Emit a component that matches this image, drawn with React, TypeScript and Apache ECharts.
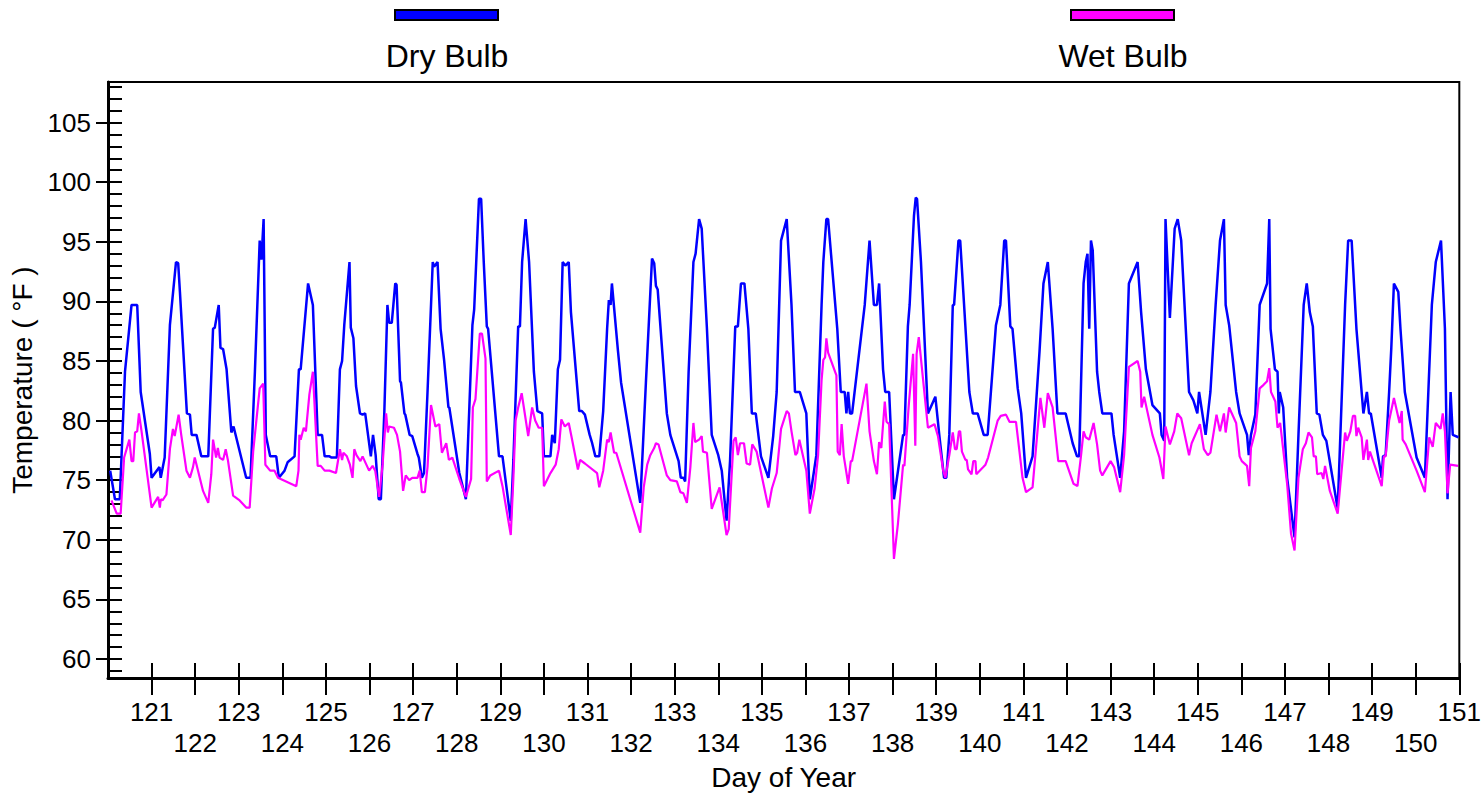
import React, { useEffect, useRef } from "react";
import * as echarts from "echarts";

const FONT = "'Liberation Sans', Arial, sans-serif";

const seriesNames = ["Dry Bulb", "Wet Bulb"];
const seriesColors = ["#0000ff", "#ff00ff"];

const dryBulb: [number, number][] = [
  [120.05, 75.8], [120.16, 73.4], [120.27, 73.4], [120.39, 84.1], [120.54, 89.7], [120.67, 89.7], [120.75, 82.4], [120.96, 77.2],
  [121.0, 75.2], [121.18, 76.1], [121.21, 75.2], [121.3, 76.9], [121.42, 88.0], [121.56, 93.3], [121.61, 93.2], [121.65, 90.8],
  [121.81, 80.6], [121.88, 80.5], [121.92, 78.8], [122.03, 78.8], [122.14, 77.0], [122.3, 77.0], [122.41, 87.7], [122.45, 87.8],
  [122.54, 89.7], [122.58, 86.1], [122.64, 86.0], [122.72, 84.3], [122.83, 79.0], [122.88, 79.5], [123.17, 75.2], [123.27, 75.2],
  [123.37, 84.1], [123.48, 95.1], [123.52, 93.5], [123.57, 96.9], [123.62, 78.8], [123.72, 77.0], [123.86, 77.0], [123.92, 75.2],
  [124.05, 75.8], [124.12, 76.5], [124.28, 77.0], [124.38, 84.3], [124.42, 84.3], [124.59, 91.5], [124.7, 89.7], [124.81, 78.8],
  [124.91, 78.8], [124.97, 77.0], [125.08, 77.0], [125.13, 76.9], [125.25, 76.9], [125.32, 84.3], [125.37, 85.0], [125.42, 88.0],
  [125.54, 93.3], [125.57, 87.8], [125.63, 86.9], [125.69, 82.9], [125.71, 82.4], [125.78, 80.6], [125.84, 80.5], [125.9, 80.6],
  [126.03, 77.0], [126.08, 78.8], [126.14, 77.1], [126.21, 73.4], [126.26, 73.4], [126.34, 80.8], [126.41, 89.7], [126.45, 88.2],
  [126.51, 88.2], [126.59, 91.5], [126.62, 91.4], [126.7, 83.3], [126.72, 83.2], [126.8, 80.6], [126.82, 80.5], [126.92, 78.8],
  [126.98, 78.7], [127.1, 77.2], [127.13, 76.9], [127.2, 75.2], [127.25, 75.6], [127.33, 82.4], [127.45, 93.3], [127.48, 92.9],
  [127.56, 93.3], [127.63, 87.7], [127.71, 85.1], [127.81, 81.1], [127.83, 81.1], [128.06, 75.6], [128.21, 73.4], [128.36, 88.0],
  [128.4, 89.3], [128.51, 98.6], [128.56, 98.6], [128.62, 93.3], [128.69, 87.9], [128.72, 87.7], [128.97, 77.0], [129.05, 77.0],
  [129.24, 71.6], [129.3, 76.7], [129.41, 87.9], [129.45, 87.9], [129.5, 93.3], [129.58, 96.9], [129.66, 93.3], [129.77, 84.1],
  [129.85, 80.8], [129.96, 80.6], [130.0, 77.0], [130.15, 77.0], [130.19, 78.8], [130.25, 78.1], [130.32, 84.3], [130.37, 85.1],
  [130.43, 93.3], [130.49, 93.0], [130.57, 93.3], [130.62, 89.1], [130.81, 80.8], [130.87, 80.8], [130.94, 80.5], [131.05, 78.8],
  [131.1, 78.2], [131.18, 77.0], [131.27, 77.0], [131.36, 80.8], [131.45, 87.7], [131.49, 90.1], [131.53, 89.7], [131.56, 91.5],
  [131.7, 85.8], [131.77, 83.2], [132.21, 73.1], [132.34, 83.2], [132.48, 93.6], [132.53, 93.2], [132.57, 91.3], [132.61, 91.0],
  [132.82, 80.6], [132.9, 78.8], [133.09, 76.6], [133.14, 75.2], [133.2, 75.2], [133.24, 74.9], [133.32, 84.1], [133.43, 93.3],
  [133.48, 94.0], [133.56, 96.9], [133.62, 96.1], [133.74, 87.7], [133.85, 78.8], [134.0, 77.1], [134.08, 75.8], [134.19, 71.6],
  [134.27, 76.6], [134.39, 87.9], [134.45, 87.9], [134.52, 91.5], [134.6, 91.5], [134.69, 87.7], [134.77, 80.6], [134.86, 80.6],
  [134.98, 77.0], [135.15, 75.2], [135.26, 78.7], [135.34, 82.4], [135.44, 95.1], [135.57, 96.9], [135.68, 89.7], [135.76, 82.4],
  [135.87, 82.4], [136.02, 80.6], [136.1, 73.4], [136.25, 77.1], [136.37, 89.7], [136.41, 93.3], [136.48, 96.9], [136.52, 96.9],
  [136.73, 87.7], [136.81, 82.4], [136.9, 82.4], [136.94, 80.6], [136.98, 82.4], [137.02, 80.6], [137.07, 80.6], [137.36, 89.7],
  [137.47, 95.1], [137.57, 89.7], [137.64, 89.7], [137.69, 91.5], [137.78, 84.3], [137.83, 82.4], [137.92, 82.4], [138.03, 73.4],
  [138.24, 78.8], [138.27, 78.8], [138.35, 87.9], [138.39, 89.7], [138.49, 97.2], [138.53, 98.7], [138.56, 98.6], [138.65, 93.3],
  [138.81, 80.6], [138.98, 82.0], [139.07, 78.8], [139.18, 75.2], [139.23, 75.2], [139.3, 78.8], [139.38, 89.7], [139.41, 89.7],
  [139.51, 95.1], [139.55, 95.1], [139.76, 82.4], [139.84, 80.6], [139.95, 80.6], [140.09, 78.8], [140.18, 78.8], [140.37, 88.0],
  [140.47, 89.7], [140.56, 95.1], [140.6, 95.1], [140.7, 87.9], [140.75, 87.7], [140.87, 82.7], [140.95, 80.6], [141.06, 75.2],
  [141.21, 77.0], [141.37, 85.8], [141.46, 91.5], [141.56, 93.3], [141.67, 87.7], [141.78, 80.6], [141.97, 80.6], [142.13, 78.1],
  [142.23, 77.0], [142.28, 77.0], [142.38, 91.5], [142.43, 93.3], [142.47, 94.0], [142.51, 87.7], [142.55, 95.1], [142.59, 94.3],
  [142.69, 84.1], [142.74, 82.4], [142.81, 80.6], [143.02, 80.6], [143.07, 78.8], [143.22, 75.2], [143.31, 79.1], [143.42, 91.5],
  [143.62, 93.3], [143.7, 89.1], [143.81, 84.3], [143.96, 81.3], [144.13, 80.6], [144.17, 78.8], [144.23, 78.3], [144.26, 96.9],
  [144.36, 88.6], [144.47, 96.1], [144.54, 96.9], [144.62, 95.1], [144.8, 82.4], [144.9, 81.7], [144.99, 80.6], [145.03, 82.4],
  [145.18, 78.8], [145.29, 82.4], [145.41, 89.7], [145.51, 95.1], [145.6, 96.9], [145.64, 89.7], [145.72, 88.0], [145.88, 82.4],
  [145.96, 80.6], [146.13, 78.8], [146.17, 77.1], [146.22, 78.8], [146.32, 80.5], [146.42, 89.7], [146.59, 91.5], [146.64, 96.9],
  [146.67, 87.7], [146.77, 84.3], [146.83, 84.1], [146.86, 80.6], [146.88, 82.4], [146.96, 81.1], [147.05, 75.2], [147.22, 70.2],
  [147.31, 78.8], [147.43, 89.7], [147.5, 91.5], [147.57, 89.1], [147.64, 87.9], [147.73, 80.6], [147.79, 80.5], [147.87, 78.8],
  [147.95, 78.3], [148.21, 72.6], [148.38, 89.7], [148.45, 95.1], [148.53, 95.1], [148.64, 87.7], [148.8, 80.6], [148.88, 82.4],
  [148.93, 80.6], [148.97, 80.6], [149.22, 75.2], [149.25, 77.0], [149.31, 77.1], [149.39, 82.4], [149.44, 86.1], [149.5, 91.5],
  [149.6, 90.8], [149.65, 87.7], [149.75, 82.4], [150.02, 76.9], [150.21, 75.2], [150.37, 89.7], [150.46, 93.3], [150.58, 95.1],
  [150.67, 87.7], [150.73, 73.4], [150.8, 82.4], [150.85, 78.8], [150.98, 78.6],
];

const wetBulb: [number, number][] = [
  [120.08, 73.3], [120.2, 72.2], [120.29, 72.2], [120.37, 76.9], [120.49, 78.4], [120.54, 76.6], [120.58, 76.6], [120.62, 79.0],
  [120.67, 79.1], [120.71, 80.6], [120.77, 79.1], [121.0, 72.7], [121.15, 73.6], [121.19, 72.7], [121.21, 73.4], [121.25, 73.3],
  [121.34, 73.8], [121.42, 77.6], [121.49, 79.3], [121.53, 78.7], [121.62, 80.5], [121.68, 78.8], [121.8, 75.8], [121.88, 75.2],
  [121.95, 76.1], [121.99, 76.9], [122.18, 74.1], [122.3, 73.1], [122.37, 75.5], [122.41, 78.4], [122.48, 76.9], [122.52, 77.7],
  [122.56, 76.9], [122.64, 76.7], [122.7, 77.6], [122.75, 76.7], [122.87, 73.7], [123.02, 73.3], [123.17, 72.7], [123.25, 72.7],
  [123.33, 77.4], [123.48, 82.7], [123.56, 83.1], [123.61, 76.3], [123.72, 75.8], [123.82, 75.8], [123.9, 75.2], [124.32, 74.5],
  [124.37, 75.8], [124.39, 78.8], [124.42, 78.4], [124.49, 79.4], [124.54, 79.1], [124.62, 82.2], [124.7, 84.1], [124.81, 76.2],
  [124.88, 76.2], [124.97, 75.8], [125.08, 75.8], [125.23, 75.6], [125.32, 77.6], [125.37, 76.7], [125.4, 77.3], [125.48, 77.0],
  [125.55, 76.3], [125.61, 75.2], [125.65, 77.6], [125.7, 77.1], [125.79, 76.6], [125.84, 77.0], [125.99, 75.8], [126.07, 76.2],
  [126.13, 75.8], [126.22, 73.6], [126.3, 76.3], [126.38, 80.6], [126.42, 79.0], [126.45, 79.5], [126.56, 79.4], [126.63, 78.8],
  [126.7, 77.4], [126.77, 74.1], [126.83, 75.4], [126.91, 75.0], [126.98, 75.2], [127.1, 75.2], [127.15, 75.8], [127.2, 74.0],
  [127.27, 74.0], [127.33, 76.1], [127.41, 81.3], [127.51, 79.5], [127.6, 79.7], [127.66, 77.3], [127.76, 78.1], [127.82, 76.7],
  [127.9, 76.9], [128.06, 75.1], [128.21, 73.6], [128.33, 75.1], [128.37, 81.1], [128.43, 81.8], [128.53, 87.3], [128.58, 87.3],
  [128.66, 85.2], [128.69, 74.9], [128.77, 75.4], [128.97, 75.8], [129.05, 74.5], [129.24, 70.4], [129.3, 75.2], [129.35, 80.0],
  [129.41, 81.1], [129.49, 82.3], [129.54, 81.1], [129.64, 78.7], [129.73, 81.1], [129.8, 80.0], [129.88, 79.4], [129.96, 79.4],
  [130.0, 74.5], [130.15, 75.6], [130.27, 76.3], [130.34, 77.6], [130.4, 80.1], [130.48, 79.5], [130.57, 79.8], [130.63, 78.7],
  [130.78, 75.9], [130.83, 76.7], [130.94, 76.4], [131.22, 75.6], [131.27, 74.4], [131.36, 75.8], [131.45, 78.4], [131.49, 78.2],
  [131.53, 79.0], [131.61, 77.3], [131.66, 77.3], [132.21, 70.6], [132.29, 74.4], [132.37, 76.3], [132.44, 77.1], [132.53, 77.7],
  [132.57, 78.1], [132.63, 78.0], [132.82, 75.4], [132.9, 75.0], [133.05, 74.9], [133.13, 74.0], [133.2, 73.9], [133.28, 73.1],
  [133.36, 76.1], [133.43, 79.8], [133.47, 78.2], [133.56, 78.4], [133.62, 78.7], [133.65, 77.4], [133.74, 77.3], [133.85, 72.6],
  [134.03, 74.4], [134.19, 70.4], [134.24, 70.9], [134.35, 78.3], [134.4, 78.6], [134.45, 77.1], [134.5, 78.1], [134.59, 78.1],
  [134.65, 76.4], [134.73, 76.3], [134.78, 78.0], [134.88, 77.4], [135.15, 72.7], [135.23, 74.3], [135.34, 75.6], [135.44, 79.3],
  [135.57, 80.8], [135.62, 80.6], [135.68, 79.1], [135.77, 77.1], [135.81, 77.3], [135.86, 78.4], [136.02, 75.8], [136.1, 72.2],
  [136.21, 74.3], [136.29, 77.1], [136.37, 83.4], [136.41, 85.1], [136.45, 85.3], [136.48, 86.9], [136.52, 85.7], [136.71, 83.8],
  [136.74, 77.4], [136.79, 77.1], [136.83, 79.7], [136.88, 77.0], [136.98, 74.7], [137.04, 76.6], [137.07, 76.6], [137.4, 83.1],
  [137.47, 79.1], [137.57, 76.6], [137.64, 75.5], [137.69, 78.2], [137.74, 77.7], [137.82, 81.6], [137.86, 79.9], [137.92, 79.7],
  [138.03, 68.4], [138.12, 71.3], [138.24, 76.3], [138.27, 76.2], [138.37, 81.3], [138.47, 85.6], [138.52, 77.9], [138.55, 85.6],
  [138.6, 87.0], [138.81, 79.4], [138.96, 79.7], [139.04, 78.7], [139.16, 75.8], [139.21, 75.2], [139.3, 77.1], [139.38, 79.0],
  [139.43, 77.6], [139.47, 77.6], [139.52, 79.1], [139.55, 79.1], [139.59, 77.4], [139.67, 76.7], [139.7, 76.7], [139.73, 75.9],
  [139.81, 75.5], [139.85, 76.6], [139.9, 76.6], [139.92, 75.5], [140.08, 76.1], [140.13, 76.3], [140.19, 76.9], [140.41, 80.0],
  [140.48, 80.4], [140.6, 80.5], [140.68, 79.9], [140.83, 79.9], [140.98, 75.2], [141.06, 74.0], [141.21, 74.4], [141.39, 81.9],
  [141.48, 79.4], [141.56, 82.3], [141.67, 81.1], [141.8, 76.6], [141.97, 76.6], [142.15, 74.7], [142.24, 74.5], [142.32, 77.0],
  [142.38, 79.1], [142.43, 78.6], [142.51, 78.4], [142.61, 79.8], [142.69, 78.0], [142.76, 75.8], [142.81, 75.4], [143.0, 76.6],
  [143.08, 76.1], [143.22, 74.0], [143.31, 77.1], [143.42, 84.5], [143.62, 85.0], [143.68, 84.1], [143.71, 81.1], [143.77, 82.0],
  [143.96, 78.8], [144.12, 76.9], [144.21, 75.1], [144.26, 79.5], [144.36, 78.0], [144.46, 79.1], [144.53, 80.6], [144.62, 80.2],
  [144.8, 77.1], [144.86, 78.1], [145.05, 79.7], [145.14, 77.6], [145.23, 77.1], [145.29, 77.3], [145.43, 80.5], [145.51, 79.1],
  [145.6, 80.6], [145.64, 79.0], [145.72, 81.1], [145.88, 79.8], [145.96, 77.0], [146.01, 76.6], [146.13, 76.2], [146.18, 74.5],
  [146.22, 77.7], [146.32, 79.1], [146.42, 82.7], [146.51, 83.0], [146.59, 83.3], [146.64, 84.4], [146.68, 82.4], [146.78, 81.6],
  [146.83, 79.4], [146.89, 79.8], [147.05, 74.7], [147.14, 70.5], [147.22, 69.1], [147.31, 75.2], [147.41, 77.6], [147.48, 78.1],
  [147.54, 79.0], [147.62, 78.6], [147.66, 77.0], [147.71, 77.0], [147.74, 75.5], [147.84, 75.6], [147.88, 75.1], [147.92, 76.2],
  [148.03, 74.1], [148.21, 72.2], [148.38, 79.0], [148.42, 78.3], [148.5, 79.1], [148.56, 80.4], [148.61, 80.4], [148.64, 78.7],
  [148.68, 79.4], [148.76, 78.6], [148.8, 76.7], [148.88, 78.4], [148.91, 76.7], [148.95, 77.4], [149.22, 74.5], [149.27, 77.0],
  [149.31, 77.0], [149.39, 80.0], [149.5, 81.9], [149.63, 79.8], [149.68, 80.8], [149.7, 78.4], [149.77, 78.0], [150.02, 75.8],
  [150.21, 74.0], [150.31, 78.6], [150.39, 77.8], [150.46, 79.8], [150.57, 79.3], [150.62, 80.6], [150.67, 79.1], [150.73, 73.9],
  [150.79, 76.3], [150.97, 76.2],
];

const xTickValues = [
  121, 122, 123, 124, 125, 126, 127, 128, 129, 130, 131, 132, 133, 134, 135, 136,
  137, 138, 139, 140, 141, 142, 143, 144, 145, 146, 147, 148, 149, 150, 151,
];
const yMajorValues = [60, 65, 70, 75, 80, 85, 90, 95, 100, 105];
const yMinorValues = [
  59, 60, 61, 62, 63, 64, 65, 66, 67, 68, 69, 70, 71, 72, 73, 74, 75, 76, 77, 78, 79, 80, 81, 82, 83,
  84, 85, 86, 87, 88, 89, 90, 91, 92, 93, 94, 95, 96, 97, 98, 99, 100, 101, 102, 103, 104, 105, 106, 107, 108,
];

const X_MIN = 120;
const X_MAX = 151;
const Y_MIN = 58.4;
const Y_MAX = 108.4;

export default function App() {
  const ref = useRef<HTMLDivElement>(null);

  useEffect(() => {
    if (!ref.current) return;
    const chart = echarts.init(ref.current, null, { renderer: "svg" });
    const tickStyle = { color: "#000", width: 2 };
    const textBase = { color: "#000", fontFamily: FONT, fontSize: 26 };
    const titleBase = { color: "#000", fontFamily: FONT, fontSize: 28 };

    chart.setOption({
      animation: false,
      backgroundColor: "#ffffff",
      grid: {
        left: 108,
        top: 82,
        width: 1354,
        height: 600,
        show: true,
        borderColor: "#000",
        borderWidth: 2,
        backgroundColor: "transparent",
      },
      xAxis: [
        {
          type: "value",
          min: X_MIN,
          max: X_MAX,
          position: "bottom",
          name: "Day of Year",
          nameLocation: "middle",
          nameGap: 81,
          nameTextStyle: { ...titleBase },
          axisLine: { show: true, onZero: false, lineStyle: { color: "#000", width: 3 } },
          axisTick: { show: true, inside: false, length: 17, lineStyle: tickStyle, customValues: xTickValues },
          axisLabel: {
            show: true,
            customValues: xTickValues,
            ...textBase,
            margin: 18,
            lineHeight: 31,
            formatter: (v: number) => (Math.round(v) % 2 === 1 ? String(Math.round(v)) : "\n" + Math.round(v)),
          },
          splitLine: { show: false },
        },
        {
          type: "value",
          min: X_MIN,
          max: X_MAX,
          position: "bottom",
          axisLine: { show: false },
          axisTick: { show: true, inside: true, length: 15, lineStyle: tickStyle, customValues: xTickValues },
          axisLabel: { show: false },
          splitLine: { show: false },
        },
      ],
      yAxis: [
        {
          type: "value",
          min: Y_MIN,
          max: Y_MAX,
          position: "left",
          name: "Temperature ( °F )",
          nameLocation: "middle",
          nameGap: 67,
          nameRotate: 90,
          nameTextStyle: { ...titleBase },
          axisLine: { show: true, onZero: false, lineStyle: { color: "#000", width: 3 } },
          axisTick: { show: true, inside: false, length: 12, lineStyle: tickStyle, customValues: yMajorValues },
          axisLabel: { show: true, customValues: yMajorValues, ...textBase, margin: 17 },
          splitLine: { show: false },
        },
        {
          type: "value",
          min: Y_MIN,
          max: Y_MAX,
          position: "left",
          axisLine: { show: false },
          axisTick: { show: true, inside: true, length: 14, lineStyle: tickStyle, customValues: yMinorValues },
          axisLabel: { show: false },
          splitLine: { show: false },
        },
      ],
      series: [
        {
          name: seriesNames[0],
          type: "line",
          data: dryBulb,
          xAxisIndex: 0,
          yAxisIndex: 0,
          showSymbol: false,
          symbol: "none",
          lineStyle: { color: seriesColors[0], width: 2.5 },
          itemStyle: { color: seriesColors[0] },
        },
        {
          name: seriesNames[1],
          type: "line",
          data: wetBulb,
          xAxisIndex: 0,
          yAxisIndex: 0,
          showSymbol: false,
          symbol: "none",
          lineStyle: { color: seriesColors[1], width: 2.2 },
          itemStyle: { color: seriesColors[1] },
        },
      ],
      graphic: [
        {
          type: "rect",
          shape: { x: 395, y: 10, width: 103, height: 10 },
          style: { fill: seriesColors[0], stroke: "#000", lineWidth: 2 },
        },
        {
          type: "text",
          x: 447,
          y: 56,
          style: { text: seriesNames[0], fontSize: 32, fontFamily: FONT, fill: "#000", align: "center", verticalAlign: "middle" },
        },
        {
          type: "rect",
          shape: { x: 1071, y: 10, width: 103, height: 10 },
          style: { fill: seriesColors[1], stroke: "#000", lineWidth: 2 },
        },
        {
          type: "text",
          x: 1123,
          y: 56,
          style: { text: seriesNames[1], fontSize: 32, fontFamily: FONT, fill: "#000", align: "center", verticalAlign: "middle" },
        },
      ],
    });

    return () => {
      chart.dispose();
    };
  }, []);

  return (
    <div
      ref={ref}
      style={{ position: "fixed", left: 0, top: 0, width: 1484, height: 796, background: "#fff" }}
    />
  );
}
